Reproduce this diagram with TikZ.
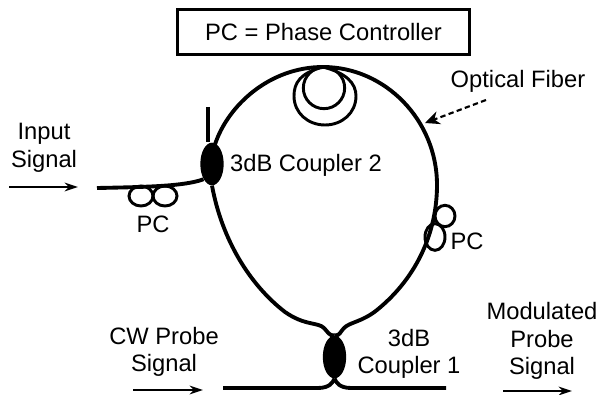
\documentclass[tikz,border=0pt]{standalone}
\usepackage{fontspec}
\setmainfont{Liberation Sans}
\usepackage{xcolor}
\usetikzlibrary{shapes.geometric, arrows.meta, positioning}
\tikzset{
  fiber/.style={line width=2.9pt, color=black},
  loopfiber/.style={line width=2.2pt, color=black},
  coupler/.style={ellipse, fill=black, draw=none, inner sep=0pt,
    minimum width=17.5pt, minimum height=32pt},
  pcloop/.style={ellipse, draw, loopfiber, inner sep=0pt},
  tag/.style={font=\fontsize{17.8}{20.6}\selectfont, align=center, inner sep=0pt, text=black},
  legendbox/.style={rectangle, draw=black, line width=2pt, minimum width=219pt,
    minimum height=34pt, font=\fontsize{17.8}{20}\selectfont},
  signal/.style={-{Stealth[length=10pt,width=6.5pt]}, line width=1.6pt},
  pointer/.style={-{Stealth[length=11pt,width=10pt]}, line width=1.6pt, dash pattern=on 4pt off 2.5pt},
}
\begin{document}
\begin{tikzpicture}[x=0.75pt, y=-0.75pt]
  \useasboundingbox (0,0) rectangle (600,395);
  \node[legendbox] (legend) at (323.5,32) {PC = Phase Controller};
  % couplers
  \node[coupler] (c2) at (212,164) {};
  \node[coupler] (c1) at (334.5,357) {};
  \coordinate (looptop) at (323,67);
  \coordinate (loopright) at (437,185);
  \coordinate (stub) at (208,107);
  \coordinate (inputend) at (97,188);
  \coordinate (probein) at (223,388);
  \coordinate (probeout) at (446,388);
  % main loop
  \draw[fiber] (c2.north) ++(3,2) .. controls (228,105) and (270,67) .. (looptop)
    .. controls (385,67) and (437,120) .. (loopright)
    .. controls (437,228) and (420,275) .. (377,310)
    .. controls (362,322) and (350,322) .. (344,328)
    .. controls (340,332) and (340,336) .. (c1.north);
  \draw[fiber] (c2.south) .. controls (222,240) and (250,285) .. (285,312)
    .. controls (305,326) and (318,322) .. (324,328)
    .. controls (328,332) and (329,336) .. (c1.north);
  \draw[fiber] (stub) -- (stub |- c2.north);
  \draw[fiber] (inputend) .. controls (150,187) and (185,186) .. (c2.south west);
  \draw[fiber] (probein) -- (318,388) .. controls (330,388) and (333,382) .. (c1.south);
  \draw[fiber] (probeout) -- (351,388) .. controls (339,388) and (336,382) .. (c1.south);
  % fiber coil
  \node[circle, draw, loopfiber, minimum size=31pt, inner sep=0pt] (coil) at (324,88) {};
  \draw[loopfiber] (looptop) .. controls (300,73) and (294,83) .. (294,96)
    .. controls (294,113) and (308,125) .. (325,125)
    .. controls (342,125) and (356,113) .. (356,96)
    .. controls (356,83) and (346,73) .. (looptop);
  % phase controllers
  \node[pcloop, minimum width=18pt, minimum height=15pt] (pcl1) at (141,196) {};
  \node[pcloop, minimum width=18pt, minimum height=15pt] (pcl2) at (165,196) {};
  \node[pcloop, minimum width=15pt, minimum height=16pt] (pcr1) at (445,216) {};
  \node[pcloop, minimum width=15pt, minimum height=20pt] (pcr2) at (435,237) {};
  \node[tag] (pcltext) at (153,224) {PC};
  \node[tag] (pcrtext) at (467,241) {PC};
  % labels
  \node[tag] (fibertext) at (518,81) {Optical Fiber};
  \node[tag] (c2text) at (306,165) {3dB Coupler 2};
  \node[tag] (c1text) at (409,354) {3dB\\Coupler 1};
  \node[tag] (inputtext) at (44,148) {Input\\Signal};
  \node[tag] (probetext) at (164,352) {CW Probe\\Signal};
  \node[tag] (modtext) at (542,341) {Modulated\\Probe\\Signal};
  % arrows
  \coordinate (fiberfrom) at (486,100);
  \coordinate (fiberto) at (425,123);
  \draw[pointer] (fiberfrom) -- (fiberto);
  \coordinate (a1) at (9,187); \coordinate (a2) at (78,187);
  \draw[signal] (a1) -- (a2);
  \coordinate (a3) at (133,390); \coordinate (a4) at (203,390);
  \draw[signal] (a3) -- (a4);
  \coordinate (a5) at (503,391); \coordinate (a6) at (572,391);
  \draw[signal] (a5) -- (a6);
\end{tikzpicture}
\end{document}
